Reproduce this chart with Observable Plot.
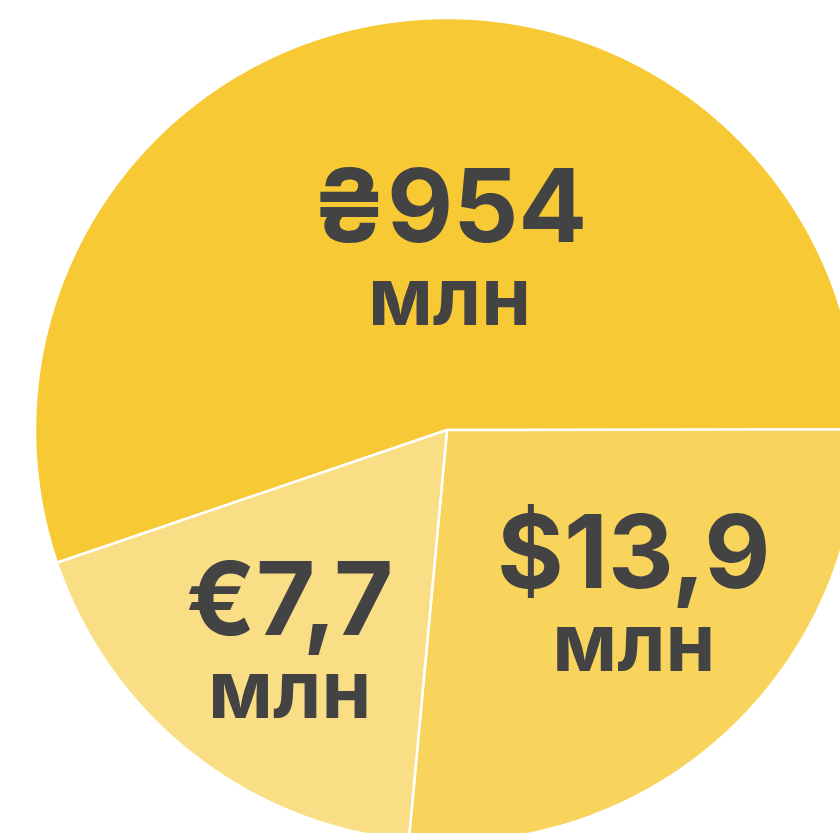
<!DOCTYPE html>
<html>
<head>
<meta charset="utf-8">
<script src="https://cdn.jsdelivr.net/npm/d3@7"></script>
<script src="https://cdn.jsdelivr.net/npm/@observablehq/plot@0.6"></script>
<style>
  html, body { margin: 0; padding: 0; background: #fff; }
  #chart svg { display: block; }
</style>
</head>
<body>
<div id="chart"></div>
<script>
// ---- data ----
const labels = ["₴954", "$13,9", "€7,7"];
const unit = "млн";
// share of the total (UAH equivalent)
const shares = [55.2, 26.5, 18.3];
const colors = ["#F7C935", "#F8D45C", "#F9DE86"];

// ---- layout ----
const W = 840, H = 833;
const cx = 447, cy = 430, R = 412;
const startDeg = -108.8; // compass angle where the first slice starts
const labelR = [0.357, 0.661, 0.708];
const labelRot = [-10.2, 0.8, 5.5]; // degrees (math direction) from mid-angle

const pie = d3.pie().sort(null).value(d => d.share)
  .startAngle(startDeg * Math.PI / 180)
  .endAngle((startDeg + 360) * Math.PI / 180);

const slices = labels.map((label, i) => ({label, share: shares[i], i}));
const arcs = pie(slices);

// polygon outline points (arc) for each slice, in unit-radius coordinates
const pts = [];
arcs.forEach(a => {
  const n = Math.max(2, Math.ceil((a.endAngle - a.startAngle) / 0.005));
  for (let k = 0; k <= n; k++) {
    const phi = a.startAngle + (a.endAngle - a.startAngle) * k / n;
    pts.push({label: a.data.label, x: Math.sin(phi), y: Math.cos(phi)});
  }
});

const labelPts = arcs.map((a, i) => {
  const mid = (a.startAngle + a.endAngle) / 2;
  const theta = Math.PI / 2 - mid + labelRot[i] * Math.PI / 180;
  return {label: a.data.label, x: labelR[i] * Math.cos(theta), y: labelR[i] * Math.sin(theta)};
});

const xDomain = [-cx / R, (W - cx) / R];
const yDomain = [-(H - cy) / R, cy / R];

const font = "Inter, 'Noto Sans', sans-serif";

const chart = Plot.plot({
  width: W,
  height: H,
  margin: 0,
  x: {domain: xDomain, axis: null},
  y: {domain: yDomain, axis: null},
  color: {domain: labels, range: colors},
  marks: [
    Plot.area(pts, {
      x1: "x", y1: "y", x2: () => 0, y2: () => 0,
      z: "label", fill: "label",
      stroke: "white", strokeWidth: 2.5, strokeLinejoin: "miter",
      curve: "linear"
    }),
    Plot.text(labelPts, {
      x: "x", y: "y", text: "label",
      fontSize: 102, fontWeight: 700, fontFamily: font,
      fill: "#434343", textAnchor: "middle", lineAnchor: "bottom", dy: -41
    }),
    Plot.text(labelPts, {
      x: "x", y: "y", text: () => unit,
      fontSize: 80, fontWeight: 700, fontFamily: font,
      fill: "#434343", textAnchor: "middle", lineAnchor: "bottom", dy: 42
    })
  ]
});
document.getElementById("chart").append(chart);
</script>
</body>
</html>
